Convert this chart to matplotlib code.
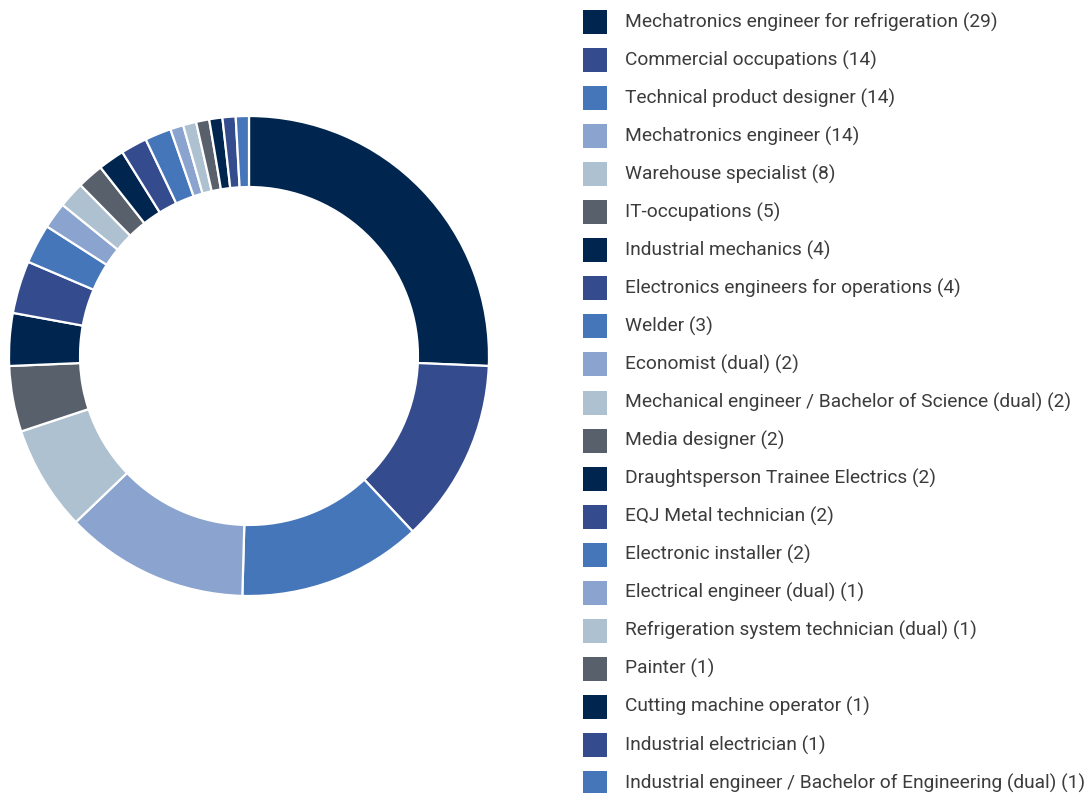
import matplotlib
matplotlib.use("Agg")
import matplotlib.pyplot as plt
from matplotlib.patches import Rectangle

labels = [
    "Mechatronics engineer for refrigeration",
    "Commercial occupations",
    "Technical product designer",
    "Mechatronics engineer",
    "Warehouse specialist",
    "IT-occupations",
    "Industrial mechanics",
    "Electronics engineers for operations",
    "Welder",
    "Economist (dual)",
    "Mechanical engineer / Bachelor of Science (dual)",
    "Media designer",
    "Draughtsperson Trainee Electrics",
    "EQJ Metal technician",
    "Electronic installer",
    "Electrical engineer (dual)",
    "Refrigeration system technician (dual)",
    "Painter",
    "Cutting machine operator",
    "Industrial electrician",
    "Industrial engineer / Bachelor of Engineering (dual)",
]
counts = [29, 14, 14, 14, 8, 5, 4, 4, 3, 2, 2, 2, 2, 2, 2, 1, 1, 1, 1, 1, 1]
palette = ["#00264f", "#344b8e", "#4676ba", "#8ba3cf", "#adc1d1", "#58606c"]
colors = [palette[i % len(palette)] for i in range(len(counts))]

plt.rcParams['font.family'] = ['Roboto', 'DejaVu Sans']

W, H = 1091, 793
fig = plt.figure(figsize=(W / 100, H / 100), dpi=100)

# donut, centre (249, 356), outer radius 240 px
cx, cy, r = 249, 356, 240
ax = fig.add_axes([(cx - r) / W, (H - cy - r) / H, 2 * r / W, 2 * r / H])
ax.pie(counts, colors=colors, startangle=90, counterclock=False, radius=1,
       wedgeprops=dict(width=0.296, edgecolor="white", linewidth=1.6))
ax.set_xlim(-1, 1)
ax.set_ylim(-1, 1)
ax.set_aspect("equal")
ax.axis("off")

# legend on the right
y0, step = 22, 38.05
for i, (lab, n) in enumerate(zip(labels, counts)):
    yc = y0 + i * step
    fig.add_artist(Rectangle((583 / W, (H - yc - 12) / H), 24 / W, 24 / H,
                             transform=fig.transFigure, color=colors[i], lw=0))
    fig.text(625 / W, (H - yc) / H, f"{lab} ({n})", fontsize=13.8,
             color="#3c3c3c", va="center", ha="left")

fig.savefig("out.png", dpi=100)
